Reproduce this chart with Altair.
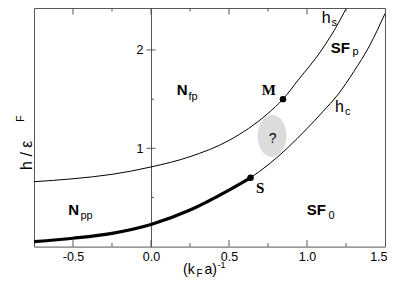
import altair as alt
import pandas as pd

# ---- data ----
hs_x = [-0.75, -0.5, -0.25, 0.0, 0.25, 0.5, 0.75, 0.846, 0.944, 1.094, 1.2, 1.276]
hs_y = [0.66, 0.69, 0.735, 0.81, 0.915, 1.08, 1.355, 1.50, 1.695, 2.0, 2.27, 2.5]
hc_thick_x = [-0.75, -0.5, -0.25, 0.0, 0.25, 0.5, 0.638]
hc_thick_y = [0.05, 0.085, 0.135, 0.225, 0.372, 0.575, 0.70]
hc_thin_x = [0.638, 0.75, 1.0, 1.1, 1.2, 1.3, 1.4, 1.5]
hc_thin_y = [0.70, 0.83, 1.20, 1.37, 1.55, 1.78, 2.04, 2.37]
pt_x = [0.846, 0.638]
pt_y = [1.50, 0.70]
blob_x = [0.776]
blob_y = [1.125]

x_label_vals = [-0.5, 0, 0.5, 1, 1.5]
x_tick_major = [-0.5, 0, 0.5, 1.0]
x_tick_minor = [-0.25, 0.25, 0.75, 1.25]
y_major = [1, 2]
y_minor = [0.5, 1.5]

# region / curve labels (data coordinates)
bold_txt = ["N", "N", "SF", "SF"]
bold_x = [0.165, -0.530, 1.152, 0.998]
bold_y = [1.542, 0.321, 1.969, 0.321]
sub_txt = ["fp", "pp", "p", "0", "s", "c"]
sub_x = [0.240, -0.452, 1.292, 1.138, 1.157, 1.243]
sub_y = [1.496, 0.281, 1.944, 0.281, 2.244, 1.339]
h_txt = ["h", "h"]
h_x = [1.094, 1.179]
h_y = [2.275, 1.372]
serif_txt = ["M", "S"]
serif_x = [0.710, 0.673]
serif_y = [1.542, 0.542]
q_txt = ["?"]

# axis titles (data coordinates, outside the frame)
yt_main = ["h / ε"]
yt_sub = ["F"]
xt_main = ["(k", "a)"]
xt_main_x = [0.205, 0.343]
xt_sub = ["F"]
xt_sup = ["-1"]

XMIN, XMAX = -0.75, 1.5
YMAX = 2.427
W, H = 351, 238.6
PPX = W / (XMAX - XMIN)   # pixels per x unit
PPY = H / YMAX            # pixels per y unit
X0 = -XMIN * PPX          # pixel position of x = 0 inside the frame
FR = "#555555"
FONT = "Liberation Sans"

xs = alt.Scale(domain=[XMIN, XMAX], nice=False, zero=False)
ys = alt.Scale(domain=[0, YMAX], nice=False, zero=False)


def df(**cols):
    return pd.DataFrame(cols)


# h_s line, carries the labelled x axis and the y axis drawn at x = 0
hs = alt.Chart(df(x=hs_x, y=hs_y)).mark_line(
    color="black", strokeWidth=1, interpolate="monotone", clip=True
).encode(
    x=alt.X("x:Q", scale=xs, axis=alt.Axis(
        orient="bottom", values=x_label_vals, ticks=False, tickSize=0, domain=False,
        grid=False, title=None,
        labelFont=FONT, labelFontSize=12.5, labelColor="black", labelPadding=4,
        labelFlush=True, labelFlushOffset=2,
        labelExpr="replace(datum.label, '\u2212', '-')")),
    y=alt.Y("y:Q", scale=ys, axis=alt.Axis(
        orient="left", offset=-X0, values=y_major, ticks=False, tickSize=0,
        domain=True, domainColor=FR, domainWidth=1, grid=False, title=None,
        labelFont=FONT, labelFontSize=12.5, labelColor="black", labelPadding=8)),
)

hc_thin = alt.Chart(df(x=hc_thin_x, y=hc_thin_y)).mark_line(
    color="black", strokeWidth=1, interpolate="monotone", clip=True
).encode(x=alt.X("x:Q", scale=xs, axis=None), y=alt.Y("y:Q", scale=ys, axis=None))

hc_thick = alt.Chart(df(x=hc_thick_x, y=hc_thick_y)).mark_line(
    color="black", strokeWidth=3.2, interpolate="monotone", clip=True
).encode(x=alt.X("x:Q", scale=xs, axis=None), y=alt.Y("y:Q", scale=ys, axis=None))

blob_path = ("M 0 -1 C 0.381 -1 0.69 -0.5523 0.69 0 C 0.69 0.5523 0.381 1 0 1 "
             "C -0.381 1 -0.69 0.5523 -0.69 0 C -0.69 -0.5523 -0.381 -1 0 -1 Z")
blob = alt.Chart(df(x=blob_x, y=blob_y)).mark_point(
    shape=blob_path, size=1764, filled=True, color="#dcdcdc", opacity=1, strokeWidth=0
).encode(x=alt.X("x:Q", scale=xs, axis=None), y=alt.Y("y:Q", scale=ys, axis=None))

pts = alt.Chart(df(x=pt_x, y=pt_y)).mark_point(
    shape="circle", size=42, filled=True, color="black", opacity=1
).encode(x=alt.X("x:Q", scale=xs, axis=None), y=alt.Y("y:Q", scale=ys, axis=None))


# inward tick marks on the frame and on the x = 0 axis, as short segments
def xticks(vals, at_top, length_px):
    y0 = YMAX if at_top else 0.0
    y1 = y0 - length_px / PPY if at_top else y0 + length_px / PPY
    d = df(x=vals, y0=[y0] * len(vals), y1=[y1] * len(vals))
    return alt.Chart(d).mark_rule(color=FR, strokeWidth=1).encode(
        x=alt.X("x:Q", scale=xs, axis=None), x2="x:Q",
        y=alt.Y("y0:Q", scale=ys, axis=None), y2="y1:Q")


def yticks(vals, left_px, right_px):
    d = df(y=vals, x0=[-left_px / PPX] * len(vals), x1=[right_px / PPX] * len(vals))
    return alt.Chart(d).mark_rule(color=FR, strokeWidth=1).encode(
        y=alt.Y("y:Q", scale=ys, axis=None), y2="y:Q",
        x=alt.X("x0:Q", scale=xs, axis=None), x2="x1:Q")


ticks = [
    xticks(x_tick_major, False, 6.5), xticks(x_tick_minor, False, 3.5),
    xticks(x_tick_major, True, 6.5), xticks(x_tick_minor, True, 3.5),
    yticks(y_major, 4.5, 4.5), yticks(y_minor, 0, 3),
]


def txt(t, x, y, size, weight="normal", font=FONT, align="left", angle=0):
    return alt.Chart(df(t=t, x=x, y=y)).mark_text(
        align=align, baseline="alphabetic", font=font, fontSize=size,
        fontWeight=weight, color="black", angle=angle
    ).encode(
        x=alt.X("x:Q", scale=xs, axis=None),
        y=alt.Y("y:Q", scale=ys, axis=None),
        text="t:N",
    )


layers = [
    hs, blob, hc_thin, hc_thick, pts, *ticks,
    txt(bold_txt, bold_x, bold_y, 15, "bold"),
    txt(sub_txt, sub_x, sub_y, 11),
    txt(h_txt, h_x, h_y, 16),
    txt(serif_txt, serif_x, serif_y, 15, "bold", "Liberation Serif"),
    txt(q_txt, [0.780], [1.054], 14, align="center"),
    txt(yt_main, [-0.763], [0.78], 16, angle=270),
    txt(yt_sub, [-0.814], [1.268], 11, angle=270),
    txt(xt_main, xt_main_x, [-0.279, -0.279], 14),
    txt(xt_sub, [0.292], [-0.309], 10),
    txt(xt_sup, [0.426], [-0.215], 9),
]

chart = alt.layer(*layers).resolve_axis(x="independent", y="independent").properties(
    width=W, height=H,
    autosize=alt.AutoSizeParams(type="none"),
    padding={"left": 26, "top": 0, "right": 2, "bottom": 31},
).configure_view(stroke=FR, strokeWidth=1)

chart.save("out.html", embed_options={"renderer": "svg", "actions": False})
